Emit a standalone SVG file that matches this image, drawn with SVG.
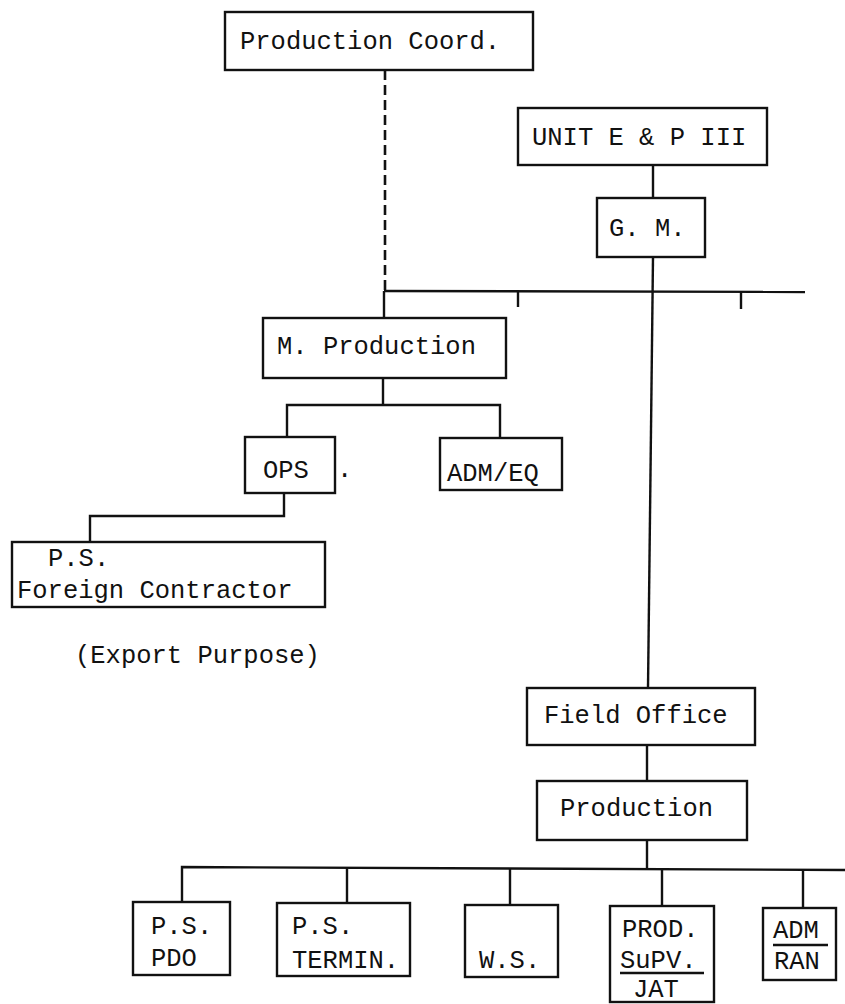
<svg xmlns="http://www.w3.org/2000/svg" width="845" height="1004" viewBox="0 0 845 1004">
<style>
.box{fill:#fff;stroke:#111;stroke-width:2.4}
.ln{fill:none;stroke:#111;stroke-width:2.4}
.dash{fill:none;stroke:#111;stroke-width:2.6;stroke-dasharray:10 5}
text{font-family:"Liberation Mono","DejaVu Sans Mono",monospace;font-size:25.5px;fill:#111}
</style>
<rect width="845" height="1004" fill="#fff"/>
<g id="connectors">
<line class="dash" x1="385" y1="70" x2="385" y2="291"/>
<line class="ln" x1="384" y1="291" x2="384" y2="318"/>
<polyline class="ln" points="384,291 805,292"/>
<line class="ln" x1="518" y1="291" x2="518" y2="307"/>
<line class="ln" x1="741" y1="292" x2="741" y2="309"/>
<line class="ln" x1="653" y1="165" x2="653" y2="198"/>
<line class="ln" x1="653" y1="257" x2="648" y2="688"/>
<line class="ln" x1="383" y1="378" x2="383" y2="405"/>
<polyline class="ln" points="287,437 287,405 500,405 500,438"/>
<polyline class="ln" points="284,493 284,516 90,516 90,542"/>
<line class="ln" x1="647" y1="745" x2="647" y2="781"/>
<line class="ln" x1="647" y1="840" x2="647" y2="869"/>
<polyline class="ln" points="182,902 182,867 845,870"/>
<line class="ln" x1="347" y1="867" x2="347" y2="903"/>
<line class="ln" x1="510" y1="868" x2="510" y2="905"/>
<line class="ln" x1="662" y1="869" x2="662" y2="906"/>
<line class="ln" x1="803" y1="870" x2="803" y2="908"/>
</g>
<g id="production-coord">
<rect class="box" x="225" y="12" width="308" height="58"/>
<text x="240" y="49">Production Coord.</text>
</g>
<g id="unit-ep3">
<rect class="box" x="518" y="108" width="249" height="57"/>
<text x="532" y="145">UNIT E &amp; P III</text>
</g>
<g id="gm">
<rect class="box" x="597" y="198" width="108" height="59"/>
<text x="609" y="236">G. M.</text>
</g>
<g id="m-production">
<rect class="box" x="263" y="318" width="243" height="60"/>
<text x="277" y="354">M. Production</text>
</g>
<g id="ops">
<rect class="box" x="245" y="437" width="90" height="56"/>
<text x="263" y="478">OPS</text>
<text x="337" y="477">.</text>
</g>
<g id="adm-eq">
<rect class="box" x="440" y="438" width="122" height="52"/>
<text x="447" y="481">ADM/EQ</text>
</g>
<g id="ps-foreign">
<rect class="box" x="12" y="542" width="313" height="65"/>
<text x="48" y="566">P.S.</text>
<text x="17" y="598">Foreign Contractor</text>
</g>
<g id="export-note">
<text x="75" y="663">(Export Purpose)</text>
</g>
<g id="field-office">
<rect class="box" x="527" y="688" width="228" height="57"/>
<text x="544" y="723">Field Office</text>
</g>
<g id="production">
<rect class="box" x="537" y="781" width="210" height="59"/>
<text x="560" y="816">Production</text>
</g>
<g id="ps-pdo">
<rect class="box" x="133" y="902" width="97" height="73"/>
<text x="151" y="934">P.S.</text>
<text x="151" y="966">PDO</text>
</g>
<g id="ps-termin">
<rect class="box" x="277" y="903" width="133" height="73"/>
<text x="292" y="934">P.S.</text>
<text x="292" y="968">TERMIN.</text>
</g>
<g id="ws">
<rect class="box" x="465" y="905" width="93" height="72"/>
<text x="479" y="968">W.S.</text>
</g>
<g id="prod-supv">
<rect class="box" x="610" y="906" width="104" height="96"/>
<text x="622" y="937">PROD.</text>
<text x="620" y="968">SuPV.</text>
<line class="ln" x1="620" y1="973" x2="704" y2="973"/>
<text x="633" y="997">JAT</text>
</g>
<g id="adm-ran">
<rect class="box" x="763" y="908" width="73" height="72"/>
<text x="773" y="938">ADM</text>
<line class="ln" x1="773" y1="945" x2="828" y2="945"/>
<text x="774" y="969">RAN</text>
</g>
</svg>
